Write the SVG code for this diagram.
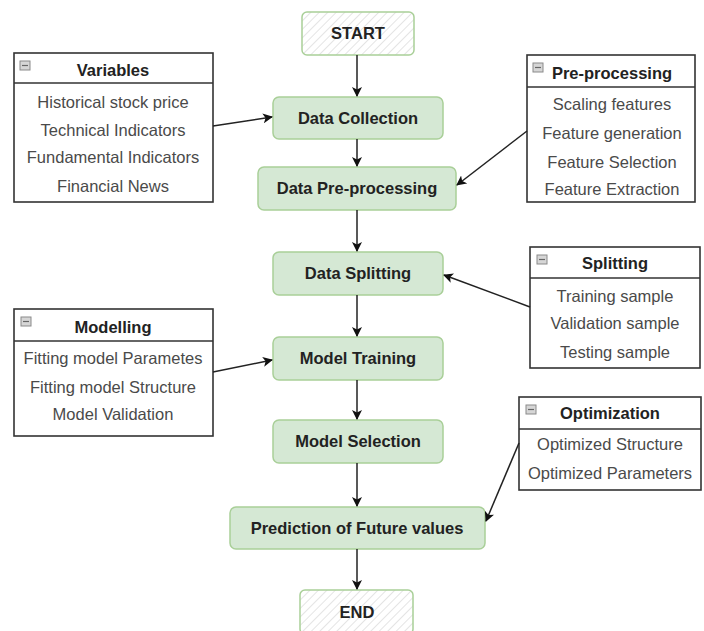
<svg xmlns="http://www.w3.org/2000/svg" width="704" height="631" viewBox="0 0 704 631">
<defs>
<pattern id="hatch" width="6" height="6" patternUnits="userSpaceOnUse" patternTransform="rotate(45)">
<rect width="6" height="6" fill="#ffffff"/>
<line x1="0" y1="0" x2="0" y2="6" stroke="#dcdcdc" stroke-width="1.5"/>
</pattern>
<marker id="arr" viewBox="0 0 10 10" refX="9" refY="5" markerWidth="10" markerHeight="10" markerUnits="userSpaceOnUse" orient="auto">
<path d="M0,0 L10,5 L0,10 L2.5,5 Z" fill="#111"/>
</marker>
<g id="icon">
<rect x="0" y="0" width="10" height="9" fill="#d6d6d6" stroke="#8a8a8a" stroke-width="1"/>
<line x1="2" y1="4.5" x2="8" y2="4.5" stroke="#666" stroke-width="1.2"/>
</g>
</defs>
<style>
.proc{fill:#d5e8d4;stroke:#a9cf98;stroke-width:1.5}
.term{fill:url(#hatch);stroke:#a9cf98;stroke-width:1.5}
.nl{font-family:"Liberation Sans",Arial,sans-serif;font-weight:bold;font-size:16.5px;fill:#222;text-anchor:middle}
.box{fill:#fff;stroke:#333;stroke-width:1.6}
.div{stroke:#333;stroke-width:1.6}
.bt{font-family:"Liberation Sans",Arial,sans-serif;font-weight:bold;font-size:16.5px;fill:#222;text-anchor:middle}
.bi{font-family:"Liberation Sans",Arial,sans-serif;font-size:16.5px;fill:#4a4a4a;text-anchor:middle}
.edge{fill:none;stroke:#222;stroke-width:1.5;marker-end:url(#arr)}
</style>

<g id="start"><rect class="term" x="302" y="12" width="112" height="43" rx="5"/><text class="nl" x="358" y="39">START</text></g>
<g id="collection"><rect class="proc" x="273" y="97" width="170" height="42" rx="6"/><text class="nl" x="358" y="124">Data Collection</text></g>
<g id="preprocessing"><rect class="proc" x="258" y="167" width="198" height="43" rx="6"/><text class="nl" x="357" y="194">Data Pre-processing</text></g>
<g id="splitting"><rect class="proc" x="273" y="252" width="170" height="43" rx="6"/><text class="nl" x="358" y="279">Data Splitting</text></g>
<g id="training"><rect class="proc" x="273" y="337" width="170" height="43" rx="6"/><text class="nl" x="358" y="364">Model Training</text></g>
<g id="selection"><rect class="proc" x="273" y="420" width="170" height="43" rx="6"/><text class="nl" x="358" y="447">Model Selection</text></g>
<g id="prediction"><rect class="proc" x="230" y="507" width="255" height="42" rx="6"/><text class="nl" x="357" y="534">Prediction of Future values</text></g>
<g id="end"><rect class="term" x="300" y="590" width="113" height="44" rx="5"/><text class="nl" x="357" y="618">END</text></g>

<g id="variables">
<rect class="box" x="14" y="53" width="199" height="149"/>
<line class="div" x1="14" y1="83" x2="213" y2="83"/>
<use href="#icon" x="20" y="61"/>
<text class="bt" x="113" y="76">Variables</text>
<text class="bi" x="113" y="108">Historical stock price</text>
<text class="bi" x="113" y="136">Technical Indicators</text>
<text class="bi" x="113" y="163">Fundamental Indicators</text>
<text class="bi" x="113" y="192">Financial News</text>
</g>

<g id="preproc-box">
<rect class="box" x="527" y="55" width="168" height="147"/>
<line class="div" x1="527" y1="87" x2="695" y2="87"/>
<use href="#icon" x="533" y="63"/>
<text class="bt" x="612" y="79">Pre-processing</text>
<text class="bi" x="612" y="110">Scaling features</text>
<text class="bi" x="612" y="139">Feature generation</text>
<text class="bi" x="612" y="168">Feature Selection</text>
<text class="bi" x="612" y="195">Feature Extraction</text>
</g>

<g id="splitting-box">
<rect class="box" x="530" y="247" width="170" height="121"/>
<line class="div" x1="530" y1="278" x2="700" y2="278"/>
<use href="#icon" x="537" y="255"/>
<text class="bt" x="615" y="269">Splitting</text>
<text class="bi" x="615" y="302">Training sample</text>
<text class="bi" x="615" y="329">Validation sample</text>
<text class="bi" x="615" y="358">Testing sample</text>
</g>

<g id="modelling-box">
<rect class="box" x="14" y="309" width="199" height="127"/>
<line class="div" x1="14" y1="341" x2="213" y2="341"/>
<use href="#icon" x="21" y="317"/>
<text class="bt" x="113" y="333">Modelling</text>
<text class="bi" x="113" y="364">Fitting model Parametes</text>
<text class="bi" x="113" y="393">Fitting model Structure</text>
<text class="bi" x="113" y="420">Model Validation</text>
</g>

<g id="optimization-box">
<rect class="box" x="519" y="397" width="182" height="93"/>
<line class="div" x1="519" y1="429" x2="701" y2="429"/>
<use href="#icon" x="526" y="405"/>
<text class="bt" x="610" y="419">Optimization</text>
<text class="bi" x="610" y="450">Optimized Structure</text>
<text class="bi" x="610" y="479">Optimized Parameters</text>
</g>

<g id="connectors">
<path class="edge" d="M357,55 L357,96"/>
<path class="edge" d="M357,139 L357,166"/>
<path class="edge" d="M357,210 L357,251"/>
<path class="edge" d="M357,295 L357,336"/>
<path class="edge" d="M357,380 L357,419"/>
<path class="edge" d="M357,463 L357,506"/>
<path class="edge" d="M357,549 L357,589"/>
<path class="edge" d="M213,126 L272,117"/>
<path class="edge" d="M527,131 L457,185"/>
<path class="edge" d="M530,307 L444,275"/>
<path class="edge" d="M213,372 L272,360"/>
<path class="edge" d="M519,443 L486,521"/>
</g>
</svg>
